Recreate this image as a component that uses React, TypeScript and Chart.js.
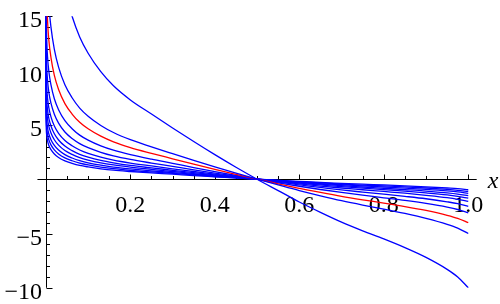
import React, { useEffect, useRef } from 'react';
import { Chart, registerables } from 'chart.js';

Chart.register(...registerables);

// sample x positions (0 stands for the divergence at the left edge)
const xValues = [0, 0.0001, 0.0003, 0.001, 0.002, 0.004, 0.007, 0.012, 0.02, 0.03, 0.045, 0.062, 0.08, 0.1, 0.13, 0.16, 0.2, 0.25, 0.3, 0.35, 0.4, 0.45, 0.5, 0.55, 0.6, 0.65, 0.7, 0.75, 0.8, 0.85, 0.9, 0.95, 0.975, 1];

const curve1 = [99, 63.8, 55.6, 46.6, 41.4, 36.2, 32.0, 28.0, 23.9, 20.6, 17.4, 15.0, 13.1, 11.6, 9.9, 8.6, 7.3, 6.0, 4.72, 3.47, 2.26, 1.1, 0, -1.05, -2.1, -3.05, -3.95, -4.75, -5.5, -6.3, -7.2, -8.3, -9.0, -10];
const curve2 = [99, 31.9, 27.8, 23.3, 20.7, 18.1, 16.0, 14.0, 11.95, 10.32, 8.7, 7.5, 6.55, 5.8, 4.95, 4.3, 3.64, 2.98, 2.35, 1.73, 1.13, 0.55, 0, -0.53, -1.05, -1.53, -1.98, -2.38, -2.75, -3.15, -3.6, -4.15, -4.5, -5];
const curveRed = [99, 25.5, 22.2, 18.6, 16.6, 14.5, 12.8, 11.2, 9.56, 8.26, 6.96, 6.0, 5.24, 4.64, 3.96, 3.44, 2.91, 2.38, 1.88, 1.38, 0.9, 0.44, 0, -0.42, -0.84, -1.22, -1.58, -1.9, -2.2, -2.52, -2.88, -3.32, -3.6, -4];
const curve4 = [99, 19.8, 17.2, 14.4, 12.8, 11.2, 9.92, 8.68, 7.41, 6.4, 5.39, 4.65, 4.06, 3.6, 3.07, 2.67, 2.26, 1.84, 1.46, 1.07, 0.7, 0.34, 0, -0.33, -0.65, -0.95, -1.22, -1.47, -1.71, -1.95, -2.23, -2.57, -2.79, -3.1];
const curve5 = [99, 15.95, 13.9, 11.65, 10.35, 9.05, 8.0, 7.0, 5.98, 5.16, 4.35, 3.75, 3.28, 2.9, 2.48, 2.15, 1.82, 1.49, 1.18, 0.86, 0.56, 0.28, 0, -0.26, -0.53, -0.76, -0.99, -1.19, -1.38, -1.58, -1.8, -2.08, -2.25, -2.5];
const curve6 = [99, 13.08, 11.4, 9.55, 8.49, 7.42, 6.56, 5.74, 4.9, 4.23, 3.57, 3.08, 2.69, 2.38, 2.03, 1.76, 1.49, 1.22, 0.96, 0.71, 0.46, 0.23, 0, -0.22, -0.43, -0.63, -0.81, -0.97, -1.13, -1.29, -1.48, -1.7, -1.85, -2.05];
const curve7 = [99, 11.17, 9.73, 8.16, 7.25, 6.34, 5.6, 4.9, 4.18, 3.61, 3.05, 2.63, 2.29, 2.03, 1.73, 1.51, 1.27, 1.04, 0.82, 0.6, 0.39, 0.19, 0, -0.18, -0.37, -0.53, -0.69, -0.83, -0.96, -1.1, -1.26, -1.45, -1.58, -1.75];
const curve8 = [99, 9.7, 8.45, 7.08, 6.29, 5.5, 4.86, 4.26, 3.63, 3.14, 2.64, 2.28, 1.99, 1.76, 1.5, 1.31, 1.11, 0.9, 0.71, 0.52, 0.34, 0.17, 0, -0.16, -0.32, -0.46, -0.6, -0.72, -0.84, -0.96, -1.09, -1.26, -1.37, -1.52];
const curve9 = [99, 8.29, 7.23, 6.06, 5.38, 4.71, 4.16, 3.64, 3.11, 2.68, 2.26, 1.95, 1.7, 1.51, 1.29, 1.12, 0.95, 0.77, 0.61, 0.45, 0.29, 0.14, 0, -0.14, -0.27, -0.4, -0.51, -0.62, -0.72, -0.82, -0.94, -1.08, -1.17, -1.3];
const curve10 = [99, 7.21, 6.28, 5.27, 4.68, 4.09, 3.62, 3.16, 2.7, 2.33, 1.97, 1.7, 1.48, 1.31, 1.12, 0.97, 0.82, 0.67, 0.53, 0.39, 0.25, 0.12, 0, -0.12, -0.24, -0.34, -0.45, -0.54, -0.62, -0.71, -0.81, -0.94, -1.02, -1.13];
const curve11 = [99, 6.19, 5.39, 4.52, 4.02, 3.51, 3.1, 2.72, 2.32, 2.0, 1.69, 1.46, 1.27, 1.13, 0.96, 0.83, 0.71, 0.58, 0.46, 0.33, 0.22, 0.11, 0, -0.1, -0.2, -0.3, -0.38, -0.46, -0.53, -0.61, -0.7, -0.81, -0.87, -0.97];

const blueCurves = [curve1, curve2, curve4, curve5, curve6, curve7, curve8, curve9, curve10, curve11];

const xTickValues = [0.2, 0.4, 0.6, 0.8, 1.0];
const xTickLabels = ['0.2', '0.4', '0.6', '0.8', '1.0'];
const yTickValues = [-10, -5, 5, 10, 15];
const yTickLabels = ['\u221210', '\u22125', '5', '10', '15'];
const xAxisTitle = 'x';

const X_MIN = -0.02, X_MAX = 1.02, Y_MIN = -10, Y_MAX = 15;
const X_MINOR_STEP = 0.05, Y_MINOR_STEP = 1;

const FONT_FAMILY = '"Liberation Serif", "DejaVu Serif", serif';

const axesPlugin = {
  id: 'mmaAxes',
  beforeDatasetsDraw(chart: any) {
    const { ctx, chartArea } = chart;
    const xs = chart.scales.x;
    const ys = chart.scales.y;
    const x0 = Math.round(xs.getPixelForValue(0)) + 0.5;
    const y0 = Math.round(ys.getPixelForValue(0)) + 0.5;
    ctx.save();
    ctx.strokeStyle = '#000';
    ctx.lineWidth = 1;
    ctx.beginPath();
    ctx.moveTo(chartArea.left, y0);
    ctx.lineTo(chartArea.right, y0);
    ctx.moveTo(x0, chartArea.top);
    ctx.lineTo(x0, chartArea.bottom);
    const nx = Math.round(1 / X_MINOR_STEP);
    for (let i = 1; i <= nx; i++) {
      const v = i * X_MINOR_STEP;
      const px = Math.round(xs.getPixelForValue(v)) + 0.5;
      const len = i % 4 === 0 ? 5 : 3.5;
      ctx.moveTo(px, y0);
      ctx.lineTo(px, y0 - len);
    }
    for (let v = Y_MIN; v <= Y_MAX; v += Y_MINOR_STEP) {
      if (v === 0) continue;
      const py = Math.round(ys.getPixelForValue(v)) + 0.5;
      const len = v % 5 === 0 ? 6 : 3.5;
      ctx.moveTo(x0, py);
      ctx.lineTo(x0 + len, py);
    }
    ctx.stroke();

    ctx.fillStyle = '#000';
    ctx.font = `24px ${FONT_FAMILY}`;
    ctx.textBaseline = 'alphabetic';
    ctx.textAlign = 'center';
    xTickValues.forEach((v, i) => {
      ctx.fillText(xTickLabels[i], xs.getPixelForValue(v), y0 + 32);
    });
    ctx.textAlign = 'right';
    yTickValues.forEach((v, i) => {
      ctx.fillText(yTickLabels[i], x0 - 4.5, ys.getPixelForValue(v) + 11);
    });
    ctx.textAlign = 'left';
    ctx.font = `italic 24px ${FONT_FAMILY}`;
    ctx.fillText(xAxisTitle, chartArea.right + 11, y0 + 8.5);
    ctx.restore();
  },
};

export default function App() {
  const ref = useRef<HTMLCanvasElement | null>(null);
  useEffect(() => {
    if (!ref.current) return;
    const mk = (ys: number[]) => xValues.map((x, i) => ({ x, y: ys[i] }));
    const lineStyle = { borderWidth: 1.3, pointRadius: 0, fill: false, cubicInterpolationMode: 'monotone' };
    const datasets: any[] = blueCurves.map((c) => ({ data: mk(c), borderColor: '#0000ff', ...lineStyle }));
    datasets.splice(2, 0, { data: mk(curveRed), borderColor: '#ff0000', ...lineStyle });
    const chart = new Chart(ref.current, {
      type: 'line',
      data: { datasets },
      options: {
        animation: false,
        responsive: false,
        devicePixelRatio: 1,
        layout: { padding: { left: 37.45, right: 23.3, top: 16.3, bottom: 16.2 } },
        plugins: { legend: { display: false }, tooltip: { enabled: false } },
        scales: {
          x: { type: 'linear', min: X_MIN, max: X_MAX, display: false },
          y: { type: 'linear', min: Y_MIN, max: Y_MAX, display: false },
        },
      },
      plugins: [axesPlugin],
    } as any);
    let alive = true;
    const fonts: any = (document as any).fonts;
    if (fonts && fonts.load) {
      Promise.all([
        fonts.load('24px "Liberation Serif"'),
        fonts.load('italic 24px "Liberation Serif"'),
      ]).then(() => { if (alive) chart.update('none'); }).catch(() => {});
    }
    return () => { alive = false; chart.destroy(); };
  }, []);
  return (
    <div style={{ position: 'fixed', left: 0, top: 0, width: 500, height: 304, background: '#fff' }}>
      <span style={{ position: 'absolute', left: -9999, fontFamily: '"Liberation Serif"' }}>0.2 <i>x</i></span>
      <canvas ref={ref} width={500} height={304} style={{ display: 'block' }} />
    </div>
  );
}
